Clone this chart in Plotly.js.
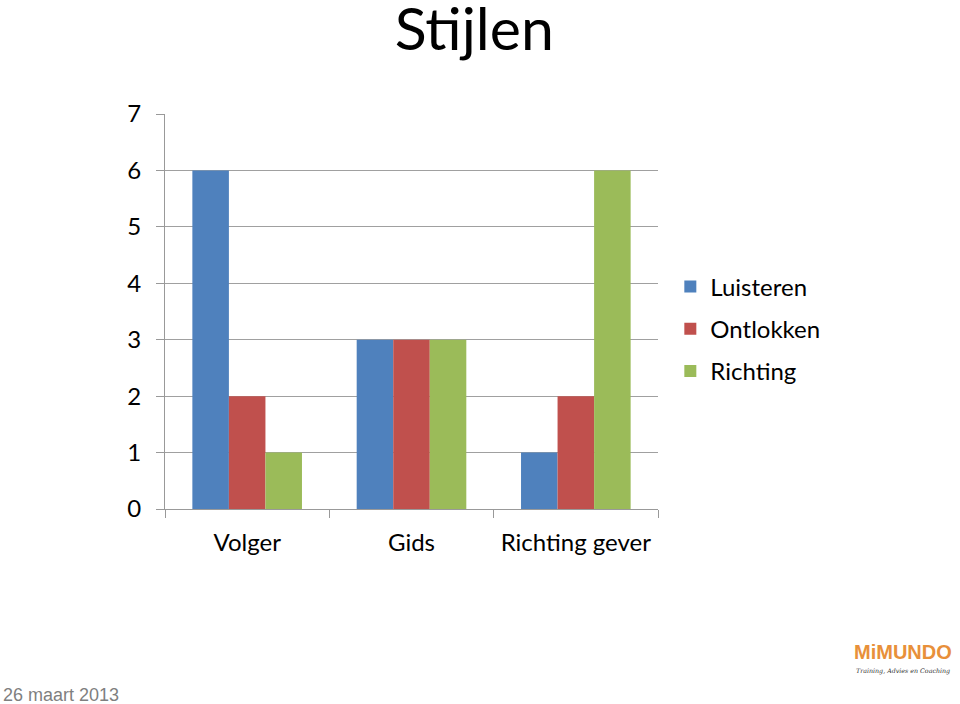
<!DOCTYPE html>
<html>
<head>
<meta charset="utf-8">
<script src="https://cdn.plot.ly/plotly-3.0.1.min.js"></script>
<style>html,body{margin:0;padding:0;background:#fff;}#chart{width:960px;height:704px;}</style>
</head>
<body>
<div id="chart"></div>
<script>
const categories = ["Volger", "Gids", "Richting gever"];
const seriesNames = ["Luisteren", "Ontlokken", "Richting"];
const luisteren = [6, 3, 1];
const ontlokken = [2, 3, 2];
const richting = [1, 3, 6];
const yTicks = [0, 1, 2, 3, 4, 5, 6, 7];
const colors = ["#4F81BD", "#C0504D", "#9BBB59"];
const seriesValues = [luisteren, ontlokken, richting];

const font = "Lato, 'Open Sans', sans-serif";
const traces = seriesValues.map((vals, i) => ({
  type: "bar",
  name: seriesNames[i],
  x: categories,
  y: vals,
  legendgroup: "g" + i,
  marker: {color: colors[i], line: {width: 0}},
  hoverinfo: "x+y+name"
}));

const layout = {
  width: 960, height: 704,
  margin: {l: 165, r: 302, t: 114, b: 195},
  paper_bgcolor: "#fff", plot_bgcolor: "#fff",
  title: {text: "Stijlen", font: {family: font, size: 59, color: "#000"}, x: 0.494, xanchor: "center", y: 0.988, yanchor: "top"},
  barmode: "group", bargap: 0.333, bargroupgap: 0,
  showlegend: true,
  legend: {x: 1.025, xanchor: "left", y: 0.456, yanchor: "middle", font: {family: font, size: 24, color: "#000"},
           traceorder: "grouped", tracegroupgap: 8, itemwidth: 30, bgcolor: "rgba(0,0,0,0)"},
  xaxis: {type: "category", tickfont: {family: font, size: 24, color: "#000"}, showline: true, linecolor: "#999", linewidth: 1,
          ticks: "outside", tickson: "boundaries", ticklen: 8, tickcolor: "#999", showgrid: false, fixedrange: true,
          ticklabelstandoff: 12},
  yaxis: {range: [0, 7], tickvals: yTicks, ticktext: yTicks.map(String), tickfont: {family: font, size: 24, color: "#000"},
          showline: true, linecolor: "#999", linewidth: 1, ticks: "outside", ticklen: 8, tickcolor: "#999",
          showgrid: true, gridcolor: "#a0a0a0", gridwidth: 1, zeroline: false, ticklabelstandoff: 10, fixedrange: true},
  annotations: [
    {text: "26 maart 2013", xref: "paper", yref: "paper", x: -0.333, xanchor: "left", y: -0.5, yanchor: "bottom",
     showarrow: false, font: {family: "Liberation Sans, Arial, sans-serif", size: 18, color: "#7f7f7f"}},
    {text: "<b>MiMUNDO</b>", xref: "paper", yref: "paper", x: 1.497, xanchor: "center", y: -0.363, yanchor: "middle",
     showarrow: false, font: {family: "Liberation Sans, Arial, sans-serif", size: 20, color: "#E8903A"}},
    {text: "<i>Training, Advies en Coaching</i>", xref: "paper", yref: "paper", x: 1.497, xanchor: "center", y: -0.41, yanchor: "middle",
     showarrow: false, font: {family: "DejaVu Serif, serif", size: 6.3, color: "#333"}}
  ]
};

Plotly.newPlot("chart", traces, layout, {displayModeBar: false, staticPlot: true});
</script>
</body>
</html>
